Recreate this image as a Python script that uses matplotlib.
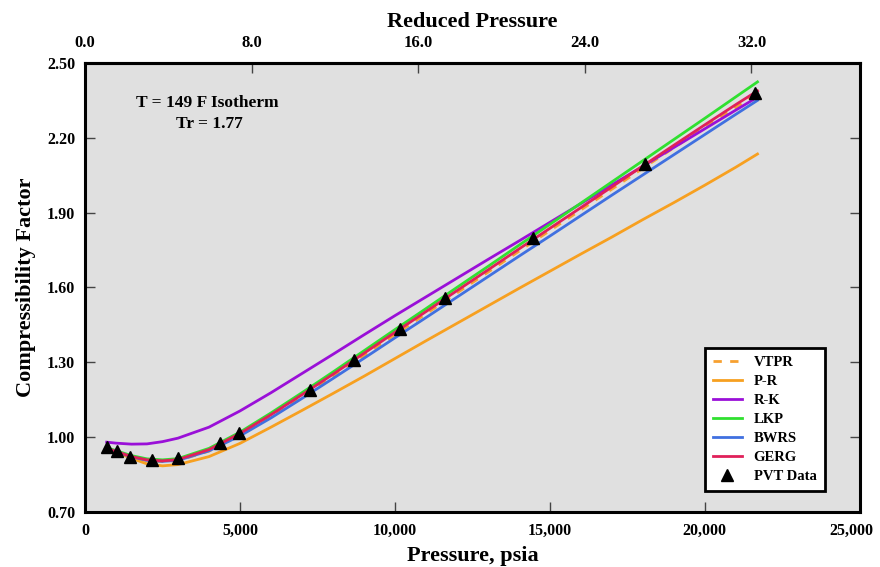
import matplotlib
matplotlib.use("Agg")
import matplotlib.pyplot as plt
from matplotlib.transforms import ScaledTranslation
import numpy as np

plt.rcParams['font.family'] = ['Liberation Serif', 'DejaVu Serif']
plt.rcParams['font.weight'] = 'bold'

# Pressure grid (psia)
pressure = [700, 1000, 1500, 2000, 2500, 3000, 4000, 5000, 6000, 7000, 8000, 9000,
            10000, 11000, 12000, 13000, 14000, 15000, 16000, 17000, 18000, 19000,
            20000, 21000, 21700]

z_pr = [0.955, 0.940, 0.915, 0.893, 0.885, 0.890, 0.922, 0.975, 1.040, 1.107, 1.175,
        1.244, 1.315, 1.386, 1.456, 1.526, 1.596, 1.665, 1.734, 1.802, 1.872, 1.940,
        2.010, 2.082, 2.135]
z_rk = [0.980, 0.976, 0.972, 0.973, 0.982, 0.996, 1.040, 1.105, 1.178, 1.255, 1.332,
        1.410, 1.487, 1.562, 1.637, 1.712, 1.786, 1.861, 1.936, 2.011, 2.086, 2.161,
        2.236, 2.311, 2.363]
z_lkp = [0.958, 0.946, 0.926, 0.913, 0.909, 0.914, 0.955, 1.020, 1.097, 1.178, 1.261,
         1.346, 1.431, 1.515, 1.600, 1.684, 1.769, 1.853, 1.938, 2.023, 2.108, 2.193,
         2.278, 2.364, 2.424]
z_bwrs = [0.955, 0.942, 0.921, 0.907, 0.903, 0.907, 0.945, 1.005, 1.077, 1.155, 1.235,
          1.316, 1.398, 1.479, 1.561, 1.643, 1.725, 1.806, 1.888, 1.970, 2.051, 2.132,
          2.213, 2.294, 2.350]
z_gerg = [0.955, 0.943, 0.922, 0.909, 0.905, 0.910, 0.950, 1.015, 1.090, 1.170, 1.252,
          1.336, 1.420, 1.503, 1.587, 1.670, 1.754, 1.837, 1.920, 2.003, 2.087, 2.170,
          2.252, 2.333, 2.388]
z_vtpr = [0.954, 0.941, 0.920, 0.906, 0.902, 0.906, 0.944, 1.007, 1.082, 1.161, 1.243,
          1.327, 1.411, 1.494, 1.578, 1.661, 1.745, 1.828, 1.911, 1.994, 2.078, 2.160,
          2.242, 2.322, 2.376]

# PVT data
pvt_p = [711, 1035, 1455, 2167, 3008, 4366, 4980, 7244, 8667, 10155, 11611, 14457,
         18079, 21604]
pvt_z = [0.961, 0.945, 0.920, 0.908, 0.916, 0.977, 1.017, 1.189, 1.309, 1.434, 1.558,
         1.800, 2.095, 2.380]

x_ticks = [0, 5000, 10000, 15000, 20000, 25000]
x_ticklabels = ['0', '5,000', '10,000', '15,000', '20,000', '25,000']
y_ticks = [0.70, 1.00, 1.30, 1.60, 1.90, 2.20, 2.50]
y_ticklabels = ['0.70', '1.00', '1.30', '1.60', '1.90', '2.20', '2.50']
pr_ticks = [0, 8, 16, 24, 32]
pr_ticklabels = ['0.0', '8.0', '16.0', '24.0', '32.0']

pc = 25000 / 37.2  # pseudo-critical pressure for reduced-pressure axis

fig = plt.figure(figsize=(8.8, 5.67), dpi=100)
ax = fig.add_axes([0.0966, 0.097, 0.8804, 0.792])
ax.set_facecolor('#e0e0e0')

lw = 2.0
ax.plot(pressure, z_vtpr, color='#f7a030', lw=2.0, ls=(0, (3, 3)), label='VTPR', zorder=2)
ax.plot(pressure, z_pr, color='#f7a020', lw=lw, label='P-R', zorder=3)
ax.plot(pressure, z_rk, color='#9a10d8', lw=lw, label='R-K', zorder=3)
ax.plot(pressure, z_lkp, color='#30e030', lw=lw, label='LKP', zorder=3)
ax.plot(pressure, z_bwrs, color='#4070e0', lw=lw, label='BWRS', zorder=3)
ax.plot(pressure, z_gerg, color='#e0205a', lw=lw, label='GERG', zorder=4)
ax.plot(pvt_p, pvt_z, ls='none', marker='^', color='black', ms=9, label='PVT Data', zorder=5)

ax.set_xlim(0, 25000)
ax.set_ylim(0.70, 2.50)
ax.set_xticks(x_ticks)
ax.set_xticklabels(x_ticklabels)
ax.set_yticks(y_ticks)
ax.set_yticklabels(y_ticklabels)
ax.tick_params(axis='x', direction='in', length=7, width=1.0, labelsize=11.5,
               colors='#444444', labelcolor='black', pad=8)
ax.tick_params(axis='y', direction='in', length=7, width=1.0, labelsize=11.5, right=True,
               colors='#444444', labelcolor='black', pad=7)
for lab in ax.get_xticklabels() + ax.get_yticklabels():
    lab.set_fontweight('bold')
for s in ax.spines.values():
    s.set_linewidth(2.2)
    s.set_color('black')

# nudge last x tick label left so it stays inside the figure
last_lab = ax.get_xticklabels()[-1]
last_lab.set_transform(last_lab.get_transform() +
                       ScaledTranslation(-6 / 72, 0, fig.dpi_scale_trans))

ax.set_xlabel('Pressure, psia', fontsize=16, fontweight='bold', labelpad=5)
ax.set_ylabel('Compressibility Factor', fontsize=16, fontweight='bold', labelpad=8)

top = ax.secondary_xaxis('top', functions=(lambda p: p / pc, lambda r: r * pc))
top.set_xticks(pr_ticks)
top.set_xticklabels(pr_ticklabels)
top.tick_params(direction='in', length=7, width=1.0, labelsize=12,
                colors='#444444', labelcolor='black', pad=8.5)
for lab in top.get_xticklabels():
    lab.set_fontweight('bold')
top.spines['top'].set_linewidth(2.2)
top.set_xlabel('Reduced Pressure', fontsize=16, fontweight='bold', labelpad=6)

ax.text(0.158, 0.911, 'T = 149 F Isotherm', transform=ax.transAxes, ha='center',
        va='center', fontsize=12.5, fontweight='bold')
ax.text(0.160, 0.864, 'Tr = 1.77', transform=ax.transAxes, ha='center',
        va='center', fontsize=12.5, fontweight='bold')

leg = ax.legend(loc='lower right', bbox_to_anchor=(0.964, 0.030),
                frameon=True, fancybox=False, edgecolor='black', facecolor='white',
                framealpha=1, handlelength=2.0, borderpad=0.55, labelspacing=0.40,
                prop={'weight': 'bold', 'size': 10.5})
leg.get_frame().set_linewidth(2.0)

fig.savefig('out.png', dpi=100)
